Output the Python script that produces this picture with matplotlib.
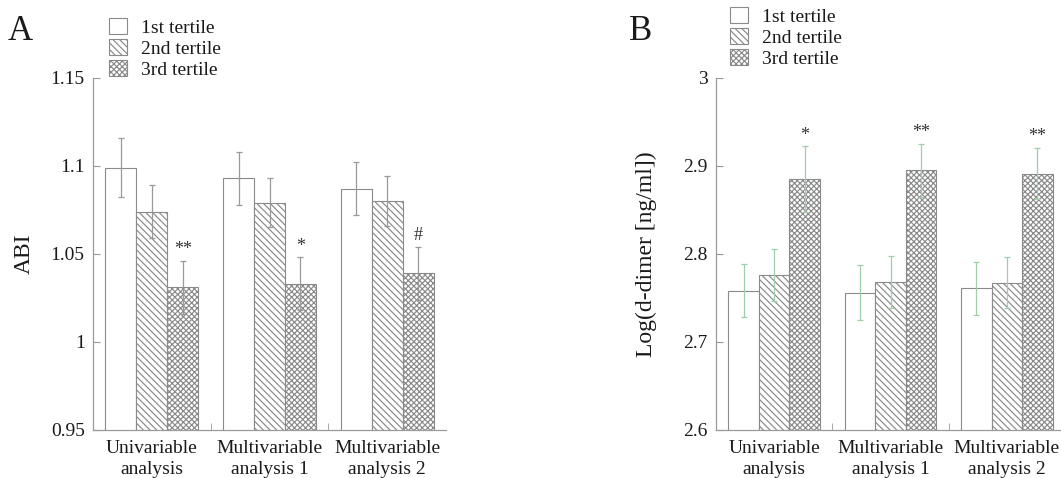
import numpy as np
import matplotlib.pyplot as plt

plt.rcParams['font.family'] = ['Liberation Serif', 'DejaVu Serif']
plt.rcParams['hatch.linewidth'] = 0.85

# data
groups = ['Univariable\nanalysis', 'Multivariable\nanalysis 1', 'Multivariable\nanalysis 2']
tertiles = ['1st tertile', '2nd tertile', '3rd tertile']

abi_mean = [[1.099, 1.093, 1.087],   # 1st tertile
            [1.074, 1.079, 1.080],   # 2nd tertile
            [1.031, 1.033, 1.039]]   # 3rd tertile
abi_err = [[0.017, 0.015, 0.015],
           [0.015, 0.014, 0.014],
           [0.015, 0.015, 0.015]]
abi_marks = ['**', '*', '#']

dd_mean = [[2.758, 2.756, 2.761],
           [2.776, 2.768, 2.767],
           [2.885, 2.895, 2.891]]
dd_err = [[0.030, 0.031, 0.030],
          [0.029, 0.030, 0.029],
          [0.037, 0.030, 0.029]]
dd_marks = ['*', '**', '**']

abi_ticks = [0.95, 1.0, 1.05, 1.1, 1.15]
abi_ticklabels = ['0.95', '1', '1.05', '1.1', '1.15']
dd_ticks = [2.6, 2.7, 2.8, 2.9, 3.0]
dd_ticklabels = ['2.6', '2.7', '2.8', '2.9', '3']

hatches = ['', '\\\\\\\\\\', 'xxxxxx']
edge = '#8a8a8a'
axis_col = '#9a9a9a'
txt = '#1a1a1a'

fig = plt.figure(figsize=(10.61, 4.78), dpi=100)
axA = fig.add_axes([93 / 1061, 48 / 478, 353 / 1061, 352.3 / 478])
axB = fig.add_axes([716 / 1061, 48 / 478, 349 / 1061, 352.3 / 478])


def draw_panel(ax, means, errs, marks, ecolor, ylim, ticks, ticklabels, ylabel):
    x = np.arange(len(groups))
    w = 0.263
    bars = []
    for i in range(3):
        pos = x + (i - 1) * w
        b = ax.bar(pos, means[i], w, bottom=0, color='white', edgecolor=edge,
                   linewidth=0.8, hatch=hatches[i], label=tertiles[i], zorder=2)
        bars.append(b)
        ax.errorbar(pos, means[i], yerr=errs[i], fmt='none', ecolor=ecolor,
                    elinewidth=0.9, capsize=2.5, capthick=0.9, zorder=3)
    # significance marks over the 3rd tertile
    for j in range(len(groups)):
        ax.annotate(marks[j], (x[j] + w, means[2][j] + errs[2][j]),
                    xytext=(0, 2), textcoords='offset points',
                    ha='center', va='bottom', fontsize=13, color='#333333')
    ax.set_xlim(-0.5, 2.5)
    ax.set_ylim(*ylim)
    ax.set_yticks(ticks)
    ax.set_yticklabels(ticklabels, fontsize=14, color=txt)
    ax.set_xticks(x)
    ax.set_xticklabels(groups, fontsize=14, color=txt, linespacing=1.35)
    ax.set_xticks([0.5, 1.5], minor=True)
    ax.tick_params(axis='x', which='major', length=0, pad=7)
    ax.tick_params(axis='x', which='minor', length=5, direction='in', color=axis_col)
    ax.tick_params(axis='y', length=5, direction='in', color=axis_col, pad=6)
    for s in ['top', 'right']:
        ax.spines[s].set_visible(False)
    for s in ['left', 'bottom']:
        ax.spines[s].set_color(axis_col)
        ax.spines[s].set_linewidth(0.9)
    ax.set_ylabel(ylabel, fontsize=17, color=txt)
    return bars


barsA = draw_panel(axA, abi_mean, abi_err, abi_marks, '#999999',
                   (0.95, 1.15), abi_ticks, abi_ticklabels, 'ABI')
axA.yaxis.set_label_coords(-0.165, 0.5)
barsB = draw_panel(axB, dd_mean, dd_err, dd_marks, '#9fcfa8',
                   (2.6, 3.0), dd_ticks, dd_ticklabels, 'Log(d-dimer [ng/ml])')
axB.yaxis.set_label_coords(-0.17, 0.5)

leg_kw = dict(loc='upper left', frameon=False, fontsize=14, handlelength=0.9,
              handleheight=0.9, handletextpad=0.75, labelspacing=0.12,
              borderpad=0, borderaxespad=0)
legA = fig.legend(handles=barsA, bbox_to_anchor=(109 / 1061, 1 - 18 / 478), **leg_kw)
legB = fig.legend(handles=barsB, bbox_to_anchor=(730 / 1061, 1 - 7 / 478), **leg_kw)
for leg in (legA, legB):
    for t in leg.get_texts():
        t.set_color(txt)

fig.text(8 / 1061, 1 - 40 / 478, 'A', fontsize=25, color=txt)
fig.text(629 / 1061, 1 - 40 / 478, 'B', fontsize=25, color=txt)

fig.savefig('out.png', dpi=100)
